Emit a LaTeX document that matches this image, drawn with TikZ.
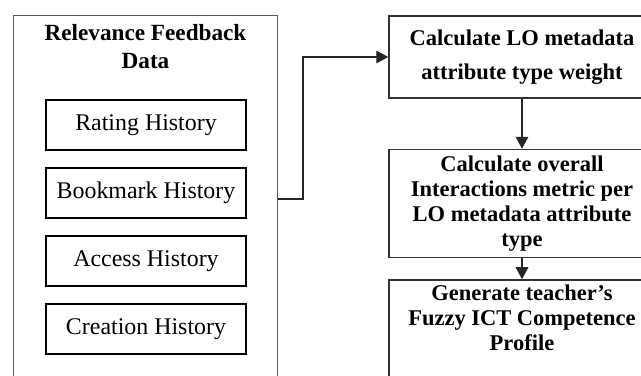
\documentclass[tikz,border=0pt]{standalone}
\usepackage{fontspec}
\setmainfont{Liberation Serif}
\usetikzlibrary{positioning,arrows.meta}

\begin{document}
\begin{tikzpicture}[x=0.025cm, y=-0.025cm,
	outer/.style={draw=black!65, line width=0.7pt, minimum width=6.575cm, minimum height=9.5cm},
	hist/.style={draw, line width=1.5pt, minimum width=5cm, minimum height=1.25cm, font=\fontsize{17}{20}\selectfont},
	stepbox/.style={draw=black!80, line width=1pt, minimum width=6.65cm, align=center, font=\bfseries\fontsize{16}{17.8}\selectfont},
	flow/.style={-{Triangle[length=8.5pt,width=9pt]}, black!85, line width=0.8pt}]

	\useasboundingbox (0,0) rectangle (641,376);
	\clip (0,0) rectangle (641,376);
	\fill[white] (0,0) rectangle (641,376);

	% left block: feedback data
	\node[outer] (rfd) at (145.5,206) {};
	\node[below=3pt of rfd.north, align=center, font=\bfseries\fontsize{16.5}{19.5}\selectfont] (title) {Relevance Feedback\\Data};

	\node[hist] (rating) at (146,125) {Rating History};
	\node[hist, below=0.4cm of rating] (bookmark) {Bookmark History};
	\node[hist, below=0.4cm of bookmark] (access) {Access History};
	\node[hist, below=0.4cm of access] (creation) {Creation History};

	% right block: processing steps
	\node[stepbox, minimum height=2.05cm] (weight) at (522,57) {Calculate LO metadata\\[6pt]attribute type weight};
	\node[stepbox, minimum height=2.7cm, below=1.25cm of weight] (metric) {Calculate overall\\Interactions metric per\\LO metadata attribute\\type};
	\node[stepbox, text depth=40pt, inner ysep=3.5pt, below=0.525cm of metric] (profile) {Generate teacher's\\Fuzzy ICT Competence\\Profile};

	\coordinate (bend) at (303,199);
	\draw[flow] (rfd.east |- bend) -- (bend) |- (weight.west);
	\draw[flow] (weight) -- (metric);
	\draw[flow] (metric) -- (profile);

\end{tikzpicture}
\end{document}
